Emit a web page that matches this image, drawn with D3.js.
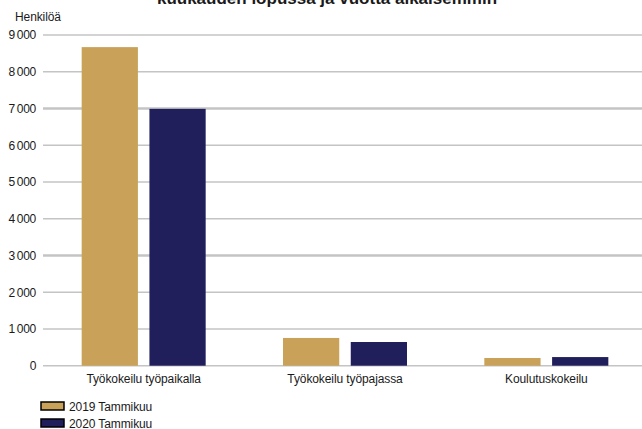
<!DOCTYPE html>
<html><head><meta charset="utf-8">
<script src="https://cdn.jsdelivr.net/npm/d3@7"></script>
<style>
body{margin:0;background:#fff;}
text{font-family:"Liberation Sans",Arial,sans-serif;fill:#1a1a1a;}
</style></head>
<body><svg id="c" width="642" height="429"></svg>
<script>
const categories = ["Työkokeilu työpaikalla", "Työkokeilu työpajassa", "Koulutuskokeilu"];
const seriesNames = ["2019 Tammikuu", "2020 Tammikuu"];
const values2019 = [8670, 755, 210];
const values2020 = [6990, 645, 235];
const yTicks = [0, 1000, 2000, 3000, 4000, 5000, 6000, 7000, 8000, 9000];
const colors = ["#c9a158", "#201f5c"];
const titleText = "kuukauden lopussa ja vuotta aikaisemmin";
const yTitle = "Henkilöä";

const svg = d3.select("#c");
const x0 = d3.scaleBand().domain(categories).range([43, 647]).paddingInner(0).paddingOuter(0);
const x1 = d3.scaleBand().domain(seriesNames).range([0, 124]).paddingInner(0.17);
const y = d3.scaleLinear().domain([0, 9000]).range([365.7, 35]);
const fmt = v => d3.format(",")(v).replace(",", "\u2009");
const ls = "-0.1px";

// title (clipped at top, as in the reference)
svg.append("text").attr("x", 327).attr("y", 4).attr("text-anchor", "middle")
  .style("font-size", "17px").style("font-weight", "bold").text(titleText);

// gridlines
svg.append("g").selectAll("line").data(yTicks).join("line")
  .attr("x1", 43).attr("x2", 642)
  .attr("y1", d => y(d)).attr("y2", d => y(d))
  .attr("stroke", "#c4c4c4")
  .attr("stroke-width", d => (d === 3000 || d === 7000) ? 2.5 : 1.5);

// y axis labels
const yAxis = d3.axisLeft(y).tickValues(yTicks).tickFormat(fmt).tickSize(0).tickPadding(0);
const ga = svg.append("g").attr("transform", "translate(36,0)").call(yAxis);
ga.select(".domain").remove();
ga.selectAll("text").style("font-size", "12px").style("font-family", "Liberation Sans, Arial, sans-serif")
  .attr("fill", "#1a1a1a").style("letter-spacing", "-0.3px");

svg.append("text").attr("x", 15).attr("y", 21).style("font-size", "12px").style("letter-spacing", ls).text(yTitle);

// bars
const data = categories.map((c, i) => ({cat: c, vals: [values2019[i], values2020[i]]}));
const groups = svg.append("g").selectAll("g").data(data).join("g")
  .attr("transform", d => `translate(${x0(d.cat) + x0.bandwidth() / 2 - 62},0)`);
groups.selectAll("rect").data(d => d.vals.map((v, j) => ({s: seriesNames[j], v, j}))).join("rect")
  .attr("x", d => x1(d.s)).attr("width", x1.bandwidth())
  .attr("y", d => y(d.v)).attr("height", d => y(0) - y(d.v))
  .attr("fill", d => colors[d.j]);

// x axis labels
const xAxis = d3.axisBottom(x0).tickSize(0).tickPadding(0);
const gx = svg.append("g").attr("transform", "translate(0,374)").call(xAxis);
gx.select(".domain").remove();
gx.selectAll("text").style("font-size", "12px").style("font-family", "Liberation Sans, Arial, sans-serif")
  .attr("fill", "#1a1a1a").style("letter-spacing", ls);

// legend
const lg = svg.append("g").selectAll("g").data(seriesNames).join("g")
  .attr("transform", (d, i) => `translate(41,${402 + i * 17})`);
lg.append("rect").attr("width", 23).attr("height", 8).attr("fill", (d, i) => colors[i])
  .attr("stroke", "#000").attr("stroke-width", 1.5);
lg.append("text").attr("x", 28).attr("y", 8.5).style("font-size", "12px").style("letter-spacing", ls).text(d => d);
</script></body></html>
